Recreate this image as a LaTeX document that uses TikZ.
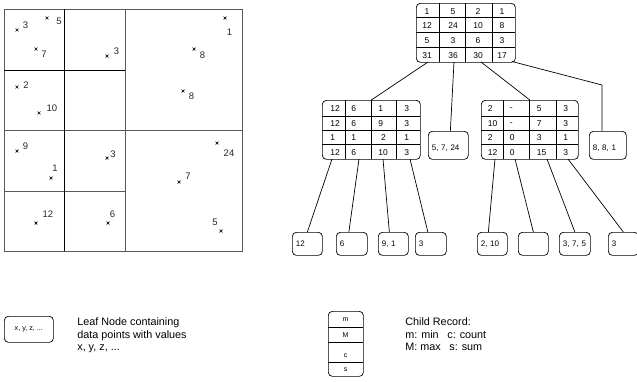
\documentclass[tikz,border=0pt]{standalone}
\usepackage{fontspec}
\setmainfont{Liberation Sans}
\begin{document}
\begin{tikzpicture}[x=1pt,y=-1pt,
  line width=0.7pt,
  frame/.style={draw=black!65, line width=0.9pt},
  split/.style={draw=black, line width=0.8pt},
  ptcross/.style={line width=0.7pt},
  ptlabel/.style={inner sep=0pt, font=\fontsize{9.5}{10}\selectfont, text=black!85},
  record/.style={draw, rounded corners=4pt, anchor=north west, inner sep=0pt},
  rule/.style={line width=0.7pt},
  cellc/.style={inner sep=0pt, font=\fontsize{8.5}{9}\selectfont},
  cellw/.style={anchor=west, inner sep=0pt, font=\fontsize{8.5}{9}\selectfont},
  leaf/.style={draw, rounded corners=4pt, anchor=north west, inner xsep=3.5pt,
               inner ysep=0pt, align=left, font=\fontsize{8}{9}\selectfont},
  link/.style={line width=0.7pt},
  legendtext/.style={anchor=north west, inner sep=0pt, align=left,
               font=\fontsize{10.8}{12.5}\selectfont},
]
\useasboundingbox (0,0) rectangle (637,381);

% ---------------- partitioned data space ----------------
\draw[frame] (4,9) rectangle (242,251);
\draw[frame] (125,9) -- (125,251);
\draw[frame] (4,130) -- (242,130);
\draw[frame] (4,191) -- (125,191);
\draw[split] (64,9) -- (64,251);
\draw[split] (4,70) -- (125,70);

% data points
\foreach \x/\y in {17/30, 47/18, 36/49, 107/56, 225/18, 194/49, 183/91,
                   17/87, 39/113, 17/151, 51/178, 107/158, 217/143,
                   179/182, 36/223, 108/223, 221/231}
  \draw[ptcross] (\x,\y) +(-1.4,-1.4) -- +(1.4,1.4) +(-1.4,1.4) -- +(1.4,-1.4);

% point values
\foreach \x/\y/\t [count=\i] in {25.5/25.5/3, 59/21/5, 44/54/7, 116.5/51/3,
                   229.5/32/1, 202.5/55/8, 191.5/96/8, 26/85.5/2, 52/108/10,
                   25.5/146/9, 55/168/1, 113/154/3, 229/153/24, 188/176.5/7,
                   48/214/12, 112.5/214/6, 215/222/5}
  \node[ptlabel] (val\i) at (\x,\y) {\t};

% ---------------- tree: root record ----------------
\node[record, minimum width=99pt, minimum height=59pt] (root) at (416,3) {};
\foreach \x in {439,465,492} \draw[rule] (\x,3) -- (\x,62);
\foreach \y in {17.75,32.5,47.25} \draw[rule] (416,\y) -- (515,\y);
\foreach \y/\a/\b/\c/\d [count=\i] in {11.5/1/5/2/1, 26/12/24/10/8,
                                       41/5/3/6/3, 56/31/36/30/17}{
  \node[cellc] (root-\i-1) at (427,\y) {\a};
  \node[cellc] (root-\i-2) at (453,\y) {\b};
  \node[cellc] (root-\i-3) at (478,\y) {\c};
  \node[cellc] (root-\i-4) at (502,\y) {\d};
}

% ---------------- tree: left inner record ----------------
\node[record, minimum width=98pt, minimum height=59pt] (lc) at (322,100) {};
\foreach \x in {345,371,396} \draw[rule] (\x,100) -- (\x,159);
\foreach \y in {116,130,144} \draw[rule] (322,\y) -- (420,\y);
\foreach \y/\a/\b/\c/\d [count=\i] in {109/12/6/1/3, 124/12/6/9/3,
                                       138/1/1/{\,\,2}/1, 153/12/6/10/3}{
  \node[cellw] (lc-\i-1) at (330,\y) {\a};
  \node[cellw] (lc-\i-2) at (351,\y) {\b};
  \node[cellw] (lc-\i-3) at (378,\y) {\c};
  \node[cellw] (lc-\i-4) at (404,\y) {\d};
}

% ---------------- tree: right inner record ----------------
\node[record, minimum width=97pt, minimum height=59pt] (rc) at (481,100) {};
\foreach \x in {503,529,556} \draw[rule] (\x,100) -- (\x,159);
\foreach \y in {116,130,144} \draw[rule] (481,\y) -- (578,\y);
\foreach \y/\a/\b/\c/\d [count=\i] in {109/2/-/5/3, 124/10/-/7/3,
                                       138/2/0/3/1, 153/12/0/15/3}{
  \node[cellw] (rc-\i-1) at (487.5,\y) {\a};
  \node[cellw] (rc-\i-2) at (509.5,\y) {\b};
  \node[cellw] (rc-\i-3) at (536.5,\y) {\c};
  \node[cellw] (rc-\i-4) at (563,\y) {\d};
}

% ---------------- leaves under the root ----------------
\node[leaf, text width=33pt, minimum height=28pt, text height=13pt, text depth=2pt]
  (leafA) at (428,131) {5, 7, 24};
\node[leaf, text width=30pt, minimum height=28pt, text height=13pt, text depth=2pt]
  (leafB) at (589,131) {8, 8, 1};

% ---------------- bottom leaves ----------------
\foreach \x/\w/\t/\n in {292/23/12/l1, 336/24/6/l2, 378/23/{9, 1}/l3,
                         415/24/3/l4, 477/23/{2, 10}/l5, 518/23/{}/l6,
                         559/24/{3, 7, 5}/l7, 608/23/3/l8}
  \node[leaf, text width=\w pt, minimum height=23pt] (\n) at (\x,232) {\t};

% ---------------- connectors ----------------
\coordinate (rs1) at (428,62);
\coordinate (rs2) at (454,62);
\coordinate (rs3) at (481,62);
\coordinate (rs4) at (512,61.5);
\coordinate (bend) at (602,85);
\draw[link] (rs1) -- (lc.north);
\draw[link] (rs2) -- ([xshift=2pt]leafA.north);
\draw[link] (rs3) -- (rc.north);
\draw[link] (rs4) -- (bend) -- (bend |- leafB.north);

\coordinate (ls1) at (332,159);
\coordinate (ls2) at (359,159);
\coordinate (ls3) at (383,159);
\coordinate (ls4) at (410,159);
\coordinate (rsb1) at (495,159);
\coordinate (rsb2) at (515,159);
\coordinate (rsb3) at (547,159);
\coordinate (rsb4) at (568,159);
\draw[link] (ls1) -- (l1.north);
\draw[link] (ls2) -- ([xshift=-3pt]l2.north);
\draw[link] (ls3) -- ([xshift=-4pt]l3.north);
\draw[link] (ls4) -- ([xshift=-3pt]l4.north);
\draw[link] (rsb1) -- ([xshift=-4pt]l5.north);
\draw[link] (rsb2) -- (l6.north);
\draw[link] (rsb3) -- (l7.north);
\draw[link] (rsb4) -- (l8.north);

% ---------------- legend ----------------
\node[draw, rounded corners=4pt, anchor=north west, minimum width=49pt,
      minimum height=26pt, inner sep=0pt, font=\fontsize{7.2}{8}\selectfont]
  (keyleaf) at (4,316) {x, y, z, ...};
\node[legendtext] (keyleaftext) at (77,317.5)
  {Leaf Node containing\\data points with values\\x, y, z, ...};

\node[record, minimum width=35pt, minimum height=65pt] (keyrec) at (328,311) {};
\draw[rule] (328,327) -- (363,327);
\draw[rule] (328,342) -- (363,342);
\draw[rule] (328,362) -- (363,362);
\node[cellc, font=\fontsize{7}{8}\selectfont] (keym) at (345.5,320) {m};
\node[cellc, font=\fontsize{7}{8}\selectfont] (keyM) at (345.5,335.5) {M};
\node[cellc, font=\fontsize{7}{8}\selectfont] (keyc) at (345.5,355.5) {c};
\node[cellc, font=\fontsize{7}{8}\selectfont] (keys) at (345.5,370) {s};
\node[legendtext] (keyrectext) at (405,317.5)
  {Child Record:\\m: min\hspace{0.8em}c: count\\M: max\hspace{0.8em}s: sum};
\end{tikzpicture}
\end{document}
